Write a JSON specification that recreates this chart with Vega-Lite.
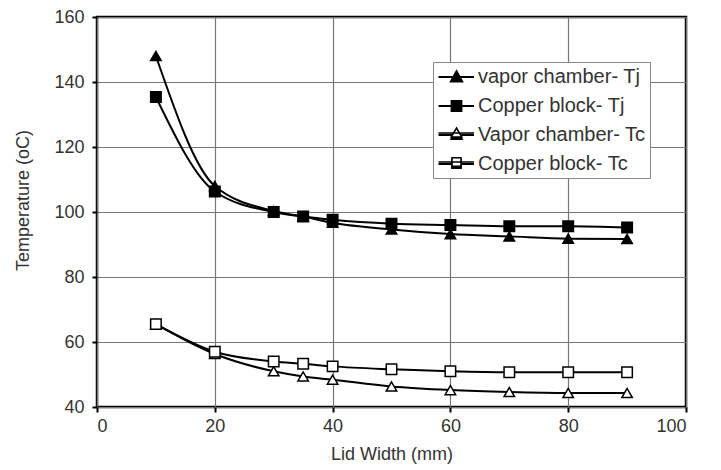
{
  "$schema": "https://vega.github.io/schema/vega-lite/v6.json",
  "width": 589,
  "height": 390,
  "autosize": {"type": "none"},
  "padding": {"left": 97, "top": 17, "right": 35, "bottom": 63},
  "background": "white",
  "config": {
    "font": "Liberation Sans",
    "view": {"stroke": "black", "strokeWidth": 2.5},
    "axis": {
      "domain": false,
      "grid": true,
      "gridColor": "#777777",
      "gridWidth": 1.2,
      "gridOpacity": 1,
      "ticks": true,
      "tickColor": "black",
      "tickWidth": 2,
      "tickSize": 5,
      "labelFont": "Liberation Sans",
      "labelFontSize": 18,
      "labelColor": "#333333",
      "titleFont": "Liberation Sans",
      "titleFontSize": 18,
      "titleFontWeight": "normal",
      "titleColor": "#333333"
    }
  },
  "data": {
    "values": [
      {"x": 10, "T": 148, "series": "vapor chamber- Tj"},
      {"x": 20, "T": 108, "series": "vapor chamber- Tj"},
      {"x": 30, "T": 100.3, "series": "vapor chamber- Tj"},
      {"x": 35, "T": 98.6, "series": "vapor chamber- Tj"},
      {"x": 40, "T": 96.7, "series": "vapor chamber- Tj"},
      {"x": 50, "T": 94.6, "series": "vapor chamber- Tj"},
      {"x": 60, "T": 93.2, "series": "vapor chamber- Tj"},
      {"x": 70, "T": 92.5, "series": "vapor chamber- Tj"},
      {"x": 80, "T": 91.8, "series": "vapor chamber- Tj"},
      {"x": 90, "T": 91.7, "series": "vapor chamber- Tj"},
      {"x": 10, "T": 135.4, "series": "Copper block- Tj"},
      {"x": 20, "T": 106.3, "series": "Copper block- Tj"},
      {"x": 30, "T": 100, "series": "Copper block- Tj"},
      {"x": 35, "T": 98.6, "series": "Copper block- Tj"},
      {"x": 40, "T": 97.6, "series": "Copper block- Tj"},
      {"x": 50, "T": 96.4, "series": "Copper block- Tj"},
      {"x": 60, "T": 96, "series": "Copper block- Tj"},
      {"x": 70, "T": 95.6, "series": "Copper block- Tj"},
      {"x": 80, "T": 95.6, "series": "Copper block- Tj"},
      {"x": 90, "T": 95.2, "series": "Copper block- Tj"},
      {"x": 10, "T": 65.5, "series": "Vapor chamber- Tc"},
      {"x": 20, "T": 56.3, "series": "Vapor chamber- Tc"},
      {"x": 30, "T": 51, "series": "Vapor chamber- Tc"},
      {"x": 35, "T": 49.4, "series": "Vapor chamber- Tc"},
      {"x": 40, "T": 48.4, "series": "Vapor chamber- Tc"},
      {"x": 50, "T": 46.3, "series": "Vapor chamber- Tc"},
      {"x": 60, "T": 45.2, "series": "Vapor chamber- Tc"},
      {"x": 70, "T": 44.6, "series": "Vapor chamber- Tc"},
      {"x": 80, "T": 44.3, "series": "Vapor chamber- Tc"},
      {"x": 90, "T": 44.3, "series": "Vapor chamber- Tc"},
      {"x": 10, "T": 65.5, "series": "Copper block- Tc"},
      {"x": 20, "T": 57, "series": "Copper block- Tc"},
      {"x": 30, "T": 54, "series": "Copper block- Tc"},
      {"x": 35, "T": 53.3, "series": "Copper block- Tc"},
      {"x": 40, "T": 52.5, "series": "Copper block- Tc"},
      {"x": 50, "T": 51.6, "series": "Copper block- Tc"},
      {"x": 60, "T": 51, "series": "Copper block- Tc"},
      {"x": 70, "T": 50.7, "series": "Copper block- Tc"},
      {"x": 80, "T": 50.7, "series": "Copper block- Tc"},
      {"x": 90, "T": 50.7, "series": "Copper block- Tc"}
    ]
  },
  "encoding": {
    "x": {
      "field": "x", "type": "quantitative",
      "scale": {"domain": [0, 100], "nice": false, "zero": false},
      "axis": {"values": [0, 20, 40, 60, 80, 100], "title": "Lid Width (mm)", "labelPadding": 5, "titlePadding": 10}
    },
    "y": {
      "field": "T", "type": "quantitative",
      "scale": {"domain": [40, 160], "nice": false, "zero": false},
      "axis": {"values": [40, 60, 80, 100, 120, 140, 160], "title": "Temperature (oC)", "labelPadding": 8, "titlePadding": 21, "titleY": 183}
    }
  },
  "layer": [
    {
      "mark": {"type": "line", "interpolate": "monotone", "stroke": "black", "strokeWidth": 2},
      "encoding": {"detail": {"field": "series"}}
    },
    {
      "mark": {"type": "point", "stroke": "black", "strokeWidth": 1.5, "opacity": 1, "filled": false},
      "encoding": {
        "shape": {
          "field": "series", "type": "nominal",
          "scale": {
            "domain": ["vapor chamber- Tj", "Copper block- Tj", "Vapor chamber- Tc", "Copper block- Tc"],
            "range": ["triangle-up", "square", "triangle-up", "square"]
          },
          "legend": null
        },
        "fill": {
          "field": "series", "type": "nominal",
          "scale": {
            "domain": ["vapor chamber- Tj", "Copper block- Tj", "Vapor chamber- Tc", "Copper block- Tc"],
            "range": ["black", "black", "white", "white"]
          },
          "legend": null
        },
        "size": {"value": 110}
      }
    },
    {
      "transform": [{"filter": "datum.x < 0"}],
      "mark": {"type": "point", "filled": true, "fill": "black", "stroke": "black", "strokeWidth": 1.8, "opacity": 1},
      "encoding": {
        "shape": {
          "field": "series", "type": "nominal",
          "scale": {
            "domain": ["vapor chamber- Tj", "Copper block- Tj", "Vapor chamber- Tc", "Copper block- Tc"],
            "range": [
              "M-0.95,0H2.6M0.85,-0.6L1.43,0.45H0.27Z",
              "M-0.95,0H2.6M0.35,-0.5H1.35V0.5H0.35Z",
              "M-0.95,0H2.6M0.85,-0.5L1.38,0.4H0.32Z",
              "M-0.95,0H2.6M0.4,-0.42H1.3V0.42H0.4Z"
            ]
          },
          "legend": {
            "title": null,
            "orient": "none",
            "legendX": 336,
            "legendY": 45,
            "direction": "vertical",
            "strokeColor": "#888888",
            "fillColor": "white",
            "padding": 4,
            "rowPadding": 8,
            "symbolSize": 400,
            "symbolStrokeWidth": 1.8,
            "symbolOpacity": 1,
            "labelOffset": 19,
            "labelFont": "Liberation Sans",
            "labelFontSize": 20,
            "labelColor": "#333333",
            "labelLimit": 300
          }
        }
      }
    },
    {
      "transform": [{"filter": "datum.x < 0"}],
      "mark": {"type": "point", "filled": true, "fill": "white", "stroke": "black", "strokeWidth": 1.5, "opacity": 1},
      "encoding": {
        "shape": {
          "field": "series", "type": "nominal",
          "scale": {
            "domain": ["vapor chamber- Tj", "Copper block- Tj", "Vapor chamber- Tc", "Copper block- Tc"],
            "range": [
              "M-0.95,0H2.6M0.85,-0.6L1.43,0.45H0.27Z",
              "M-0.95,0H2.6M0.35,-0.5H1.35V0.5H0.35Z",
              "M-0.95,0H2.6M0.85,-0.5L1.38,0.4H0.32Z",
              "M-0.95,0H2.6M0.4,-0.42H1.3V0.42H0.4Z"
            ]
          },
          "legend": {
            "title": null,
            "values": ["Vapor chamber- Tc", "Copper block- Tc"],
            "labelExpr": "''",
            "orient": "none",
            "legendX": 336,
            "legendY": 101,
            "direction": "vertical",
            "strokeColor": "transparent",
            "fillColor": "transparent",
            "padding": 4,
            "rowPadding": 8,
            "symbolSize": 400,
            "symbolStrokeWidth": 1.5,
            "symbolOpacity": 1,
            "labelOffset": 19,
            "labelFont": "Liberation Sans",
            "labelFontSize": 20,
            "labelColor": "transparent",
            "labelLimit": 300
          }
        }
      }
    }
  ],
  "resolve": {
    "scale": {"shape": "independent"},
    "legend": {"shape": "independent"}
  }
}
